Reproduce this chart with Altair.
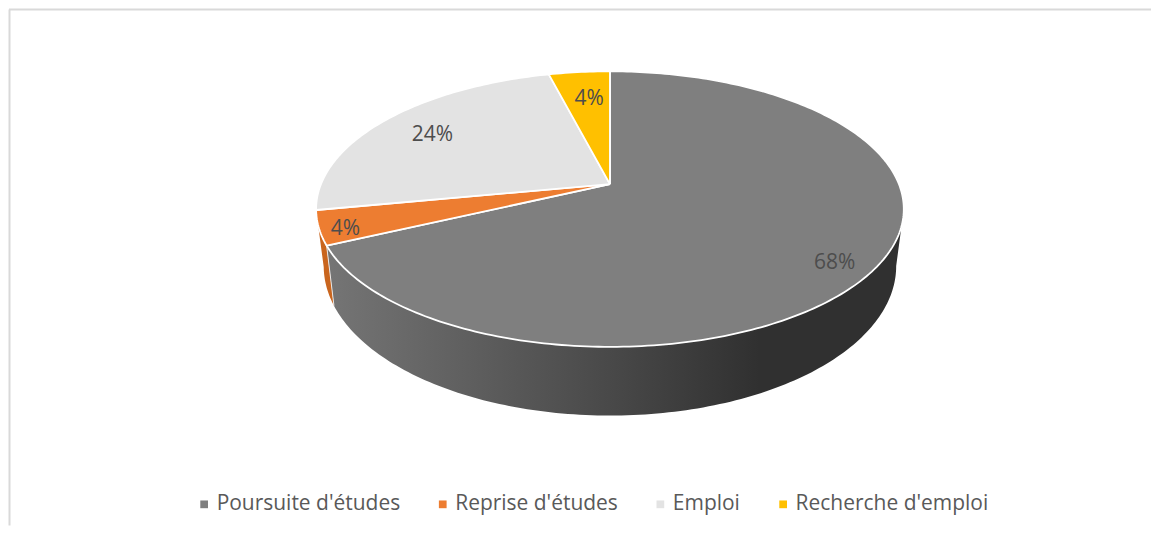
import math
import altair as alt
import pandas as pd

categories = ["Poursuite d'études", "Reprise d'études", "Emploi", "Recherche d'emploi"]
shares = [68, 4, 24, 4]
labels = ["68%", "4%", "24%", "4%"]
colors = ["#7F7F7F", "#ED7D31", "#E3E3E3", "#FFC000"]
wall_colors = [None, "#C9651E", None, None]

W, H = 1144, 517
OX, OY = 8, 9          # page position of the plot origin
K = 0.181              # perspective strength of the tilted disc
TOP = dict(a=289.5, b=133.5, cx=610.0, cy=184.0)
BASE = dict(a=282.0, b=144.8, cx=610.0, cy=239.0)
RIGHT_EDGE_DEG = 100.4 # where the disc's right silhouette sits
label_fx = [0.83, 0.91, 0.80, 0.69]
label_fy = [0.98, 1.00, 0.785, 0.77]


def project(disc, deg, fx=1.0, fy=1.0):
    t = math.radians(deg)
    w = 1 + K * math.cos(t)
    return (disc["cx"] + fx * disc["a"] * math.sin(t) / w - OX,
            disc["cy"] - fy * disc["b"] * math.cos(t) / w - OY)


def arc(disc, a0, a1):
    n = max(2, int(abs(a1 - a0)) + 2)
    return [project(disc, a0 + (a1 - a0) * i / (n - 1)) for i in range(n)]


edges = [0.0]
for s in shares:
    edges.append(edges[-1] + s * 3.6)

faces, texts = [], []
for i, cat in enumerate(categories):
    a0, a1 = edges[i], edges[i + 1]
    pts = [project(TOP, 0, 0, 0)] + arc(TOP, a0, a1) + [project(TOP, 0, 0, 0)]
    faces += [dict(cat=cat, o=j, x=p[0], y=p[1]) for j, p in enumerate(pts)]
    mid = (a0 + a1) / 2
    tx, ty = project(TOP, mid, label_fx[i], label_fy[i])
    texts.append(dict(label=labels[i], x=tx, y=ty))


def strip(a0, a1, name):
    pts = arc(TOP, a0, a1) + arc(BASE, a1, a0)
    pts.append(pts[0])
    return pd.DataFrame([dict(name=name, o=j, x=p[0], y=p[1]) for j, p in enumerate(pts)])


x_enc = alt.X("x:Q", scale=alt.Scale(domain=[0, W], nice=False, zero=False), axis=None)
y_enc = alt.Y("y:Q", scale=alt.Scale(domain=[H, 0], nice=False, zero=False), axis=None)

frame_top = alt.Chart(pd.DataFrame({"k": [0]})).mark_rule(
    color="#D9D9D9", strokeWidth=2
).encode(x=alt.value(0), x2=alt.value(W), y=alt.value(0))
frame_left = alt.Chart(pd.DataFrame({"k": [0]})).mark_rule(
    color="#D9D9D9", strokeWidth=2
).encode(x=alt.value(0.5), y=alt.value(0), y2=alt.value(H))

grey_wall = alt.Chart(strip(RIGHT_EDGE_DEG, edges[1], "g")).mark_line(
    filled=True,
    strokeWidth=0,
    fill=alt.Gradient(
        gradient="linear", x1=0, x2=1, y1=0, y2=0,
        stops=[
            alt.GradientStop(color="#757575", offset=0),
            alt.GradientStop(color="#484848", offset=0.5),
            alt.GradientStop(color="#303030", offset=0.75),
            alt.GradientStop(color="#303030", offset=1),
        ],
    ),
).encode(x=x_enc, y=y_enc, order="o:Q")

orange_wall = alt.Chart(strip(edges[1], edges[2], "o")).mark_line(
    filled=True, strokeWidth=0, fill=wall_colors[1]
).encode(x=x_enc, y=y_enc, order="o:Q")

seam_pts = [project(TOP, edges[1]), project(BASE, edges[1])]
seam = alt.Chart(pd.DataFrame(
    [dict(o=j, x=p[0], y=p[1]) for j, p in enumerate(seam_pts)]
)).mark_line(color="#E8E8E8", strokeWidth=1).encode(x=x_enc, y=y_enc, order="o:Q")

face_layer = alt.Chart(pd.DataFrame(faces)).mark_line(
    filled=True, stroke="white", strokeWidth=1.8, strokeJoin="round"
).encode(
    x=x_enc, y=y_enc, order="o:Q",
    fill=alt.Fill(
        "cat:N",
        scale=alt.Scale(domain=categories, range=colors),
        legend=alt.Legend(
            orient="none", legendX=185, legendY=485, direction="horizontal",
            columns=4, title=None, symbolType="square", symbolSize=60,
            symbolStrokeWidth=0, labelFont="Open Sans", labelFontSize=21,
            labelColor="#595959", columnPadding=32, labelOffset=2, labelLimit=300,
        ),
    ),
)

text_layer = alt.Chart(pd.DataFrame(texts)).mark_text(
    font="Open Sans", fontSize=21, color="#4D4D4D", dy=1.5, dx=0.5
).encode(x=x_enc, y=y_enc, text="label:N")

chart = alt.layer(frame_top, frame_left, grey_wall, orange_wall, seam, face_layer, text_layer).properties(
    width=W, height=H, padding=0,
    background="white",
).configure_view(stroke=None)

chart.save("out.html", embed_options={"renderer": "svg", "actions": False})
